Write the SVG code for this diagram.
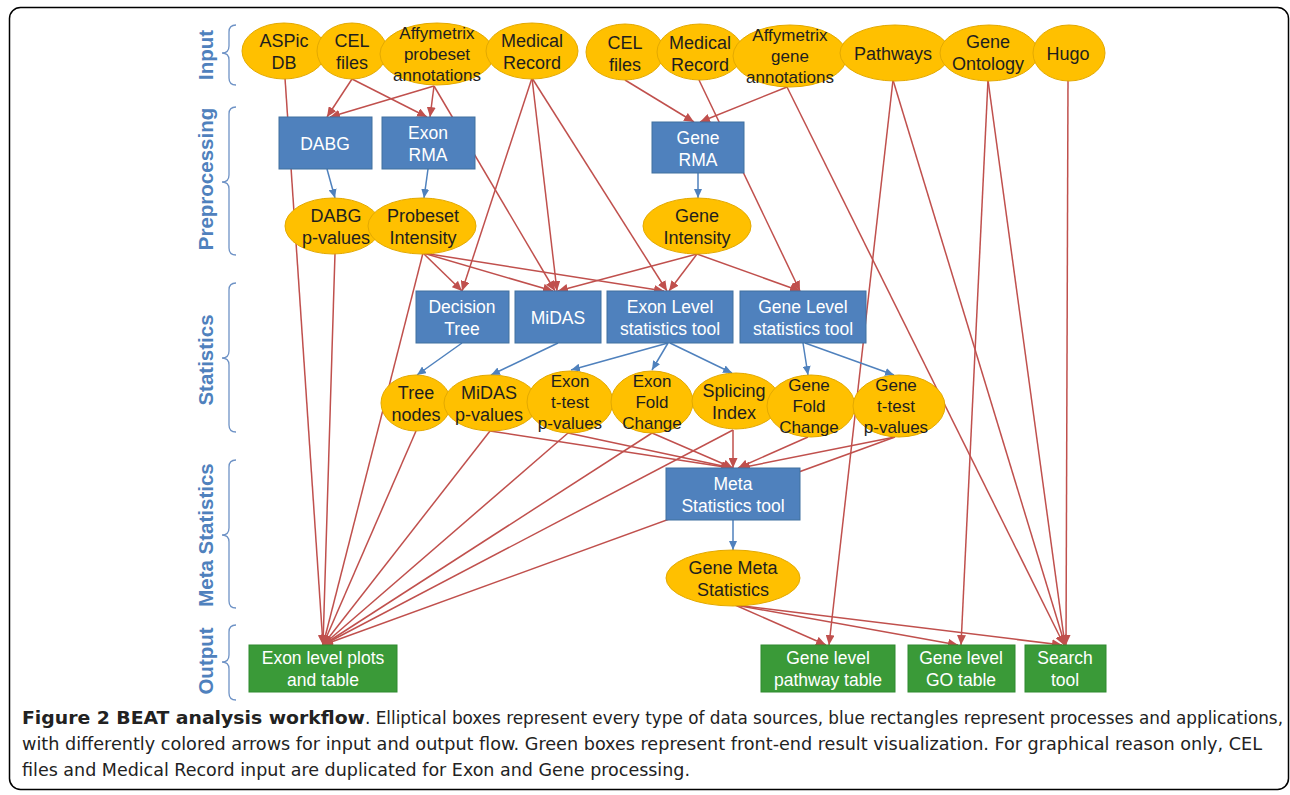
<svg xmlns="http://www.w3.org/2000/svg" width="1290" height="795" viewBox="0 0 1290 795">
<defs>
<marker id="ar" markerUnits="userSpaceOnUse" markerWidth="11" markerHeight="9" refX="10" refY="4.5" orient="auto"><path d="M0,0 L10,4.5 L0,9 z" fill="#C0504D"/></marker>
<marker id="ab" markerUnits="userSpaceOnUse" markerWidth="10" markerHeight="8" refX="9" refY="4" orient="auto"><path d="M0,0 L9,4 L0,8 z" fill="#4F81BD"/></marker>
<style>
.ell{fill:#FFC000;stroke:#E3A900;stroke-width:1}
.et{font-family:"Liberation Sans",Arial,sans-serif;font-size:18px;fill:#1E1E1E;text-anchor:middle}
.et3{font-family:"Liberation Sans",Arial,sans-serif;font-size:17px;fill:#1E1E1E;text-anchor:middle}
.br{fill:#4F81BD;stroke:#41709F;stroke-width:1}
.gr{fill:#3A9A38;stroke:#2F8A2E;stroke-width:1}
.rt{font-family:"Liberation Sans",Arial,sans-serif;font-size:17.5px;fill:#FFFFFF;text-anchor:middle}
.sec{font-family:"Liberation Sans",Arial,sans-serif;font-size:20.5px;font-weight:bold;fill:#4F81BD;text-anchor:middle}
.brace{fill:none;stroke:#6F93C6;stroke-width:1.3}
.red line{stroke:#C0504D;stroke-width:1.5;marker-end:url(#ar)}
.blue line{stroke:#4F81BD;stroke-width:1.5;marker-end:url(#ab)}
.cap{font-family:"Liberation Sans Narrow","DejaVu Sans Condensed","Liberation Sans",sans-serif;font-size:17px;fill:#222}
</style>
</defs>
<rect x="0" y="0" width="1290" height="795" fill="#FFFFFF"/>
<rect x="9.5" y="7.5" width="1279" height="782" rx="11" fill="#FFFFFF" stroke="#000" stroke-width="1.5"/>

<g id="section-labels">
<text class="sec" transform="translate(213,55) rotate(-90)">Input</text>
<text class="sec" transform="translate(213,179) rotate(-90)">Preprocessing</text>
<text class="sec" transform="translate(213,360) rotate(-90)">Statistics</text>
<text class="sec" transform="translate(213,535) rotate(-90)">Meta Statistics</text>
<text class="sec" transform="translate(213,661) rotate(-90)">Output</text>
<path class="brace" d="M236,25 Q229,25 229,32 L229,46 Q229,53 222,53 Q229,53 229,60 L229,78 Q229,85 236,85"/>
<path class="brace" d="M236,107 Q229,107 229,114 L229,175 Q229,182 222,182 Q229,182 229,189 L229,248 Q229,255 236,255"/>
<path class="brace" d="M236,283 Q229,283 229,290 L229,351 Q229,358 222,358 Q229,358 229,365 L229,425 Q229,432 236,432"/>
<path class="brace" d="M236,460 Q229,460 229,467 L229,528 Q229,535 222,535 Q229,535 229,542 L229,601 Q229,608 236,608"/>
<path class="brace" d="M236,625 Q229,625 229,632 L229,655 Q229,662 222,662 Q229,662 229,669 L229,693 Q229,700 236,700"/>
</g>

<g id="connectors">
<g class="red">
<line x1="352" y1="79" x2="327" y2="117"/>
<line x1="352" y1="79" x2="427" y2="117"/>
<line x1="434" y1="86" x2="330" y2="117"/>
<line x1="434" y1="86" x2="430" y2="117"/>
<line x1="434" y1="86" x2="555" y2="291"/>
<line x1="285" y1="78" x2="323" y2="645"/>
<line x1="532" y1="78" x2="462" y2="291"/>
<line x1="532" y1="78" x2="557" y2="291"/>
<line x1="532" y1="78" x2="667" y2="291"/>
<line x1="625" y1="80" x2="694" y2="122"/>
<line x1="787" y1="87" x2="700" y2="122"/>
<line x1="787" y1="87" x2="1064" y2="645"/>
<line x1="699" y1="80" x2="800" y2="291"/>
<line x1="893" y1="80" x2="829" y2="645"/>
<line x1="893" y1="80" x2="1065" y2="645"/>
<line x1="988" y1="80" x2="961" y2="645"/>
<line x1="988" y1="80" x2="1065" y2="645"/>
<line x1="1068" y1="80" x2="1066" y2="645"/>
<line x1="335" y1="253" x2="323" y2="645"/>
<line x1="423" y1="253" x2="323" y2="645"/>
<line x1="423" y1="253" x2="462" y2="291"/>
<line x1="423" y1="253" x2="553" y2="291"/>
<line x1="423" y1="253" x2="664" y2="291"/>
<line x1="697" y1="254" x2="558" y2="291"/>
<line x1="697" y1="254" x2="669" y2="291"/>
<line x1="697" y1="254" x2="800" y2="291"/>
<line x1="416" y1="431" x2="323" y2="645"/>
<line x1="490" y1="431" x2="323" y2="645"/>
<line x1="490" y1="431" x2="731" y2="468"/>
<line x1="568" y1="433" x2="323" y2="645"/>
<line x1="568" y1="433" x2="732" y2="468"/>
<line x1="652" y1="433" x2="323" y2="645"/>
<line x1="652" y1="433" x2="733" y2="468"/>
<line x1="733" y1="430" x2="733" y2="468"/>
<line x1="733" y1="430" x2="323" y2="645"/>
<line x1="808" y1="437" x2="738" y2="468"/>
<line x1="895" y1="437" x2="740" y2="468"/>
<line x1="895" y1="437" x2="323" y2="645"/>
<line x1="735" y1="605" x2="826" y2="645"/>
<line x1="735" y1="605" x2="958" y2="645"/>
<line x1="735" y1="605" x2="1062" y2="645"/>
</g>
<g class="blue">
<line x1="327" y1="169" x2="335" y2="198"/>
<line x1="428" y1="169" x2="424" y2="198"/>
<line x1="698" y1="173" x2="698" y2="198"/>
<line x1="462" y1="343" x2="417" y2="375"/>
<line x1="558" y1="343" x2="491" y2="375"/>
<line x1="668" y1="343" x2="571" y2="370"/>
<line x1="668" y1="343" x2="652" y2="370"/>
<line x1="670" y1="343" x2="732" y2="373"/>
<line x1="803" y1="343" x2="808" y2="375"/>
<line x1="805" y1="343" x2="894" y2="375"/>
<line x1="733" y1="520" x2="733" y2="550"/>
</g>
</g>

<g id="aspic-db"><ellipse class="ell" cx="284" cy="51" rx="42" ry="28"/><text class="et" x="284" y="47">ASPic</text><text class="et" x="284" y="69">DB</text></g>
<g id="cel-files-1"><ellipse class="ell" cx="352" cy="51" rx="35" ry="28"/><text class="et" x="352" y="47">CEL</text><text class="et" x="352" y="69">files</text></g>
<g id="affy-probeset"><ellipse class="ell" cx="437" cy="54" rx="57" ry="31"/><text class="et3" x="437" y="39">Affymetrix</text><text class="et3" x="437" y="60">probeset</text><text class="et3" x="437" y="81">annotations</text></g>
<g id="medical-record-1"><ellipse class="ell" cx="532" cy="51" rx="46" ry="28"/><text class="et" x="532" y="47">Medical</text><text class="et" x="532" y="69">Record</text></g>
<g id="cel-files-2"><ellipse class="ell" cx="625" cy="52" rx="39" ry="28"/><text class="et" x="625" y="49">CEL</text><text class="et" x="625" y="71">files</text></g>
<g id="medical-record-2"><ellipse class="ell" cx="700" cy="52" rx="43" ry="28"/><text class="et" x="700" y="49">Medical</text><text class="et" x="700" y="71">Record</text></g>
<g id="affy-gene"><ellipse class="ell" cx="790" cy="56" rx="57" ry="31"/><text class="et3" x="790" y="41">Affymetrix</text><text class="et3" x="790" y="62">gene</text><text class="et3" x="790" y="83">annotations</text></g>
<g id="pathways"><ellipse class="ell" cx="895" cy="53" rx="55" ry="28"/><text class="et" x="893" y="60">Pathways</text></g>
<g id="gene-ontology"><ellipse class="ell" cx="989" cy="53" rx="49" ry="28"/><text class="et" x="988" y="48">Gene</text><text class="et" x="988" y="70">Ontology</text></g>
<g id="hugo"><ellipse class="ell" cx="1069" cy="53" rx="36" ry="28"/><text class="et" x="1068" y="60">Hugo</text></g>

<g id="dabg"><rect class="br" x="279" y="117" width="93" height="52"/><text class="rt" x="325" y="150">DABG</text></g>
<g id="exon-rma"><rect class="br" x="382" y="117" width="93" height="52"/><text class="rt" x="428" y="139">Exon</text><text class="rt" x="428" y="161">RMA</text></g>
<g id="gene-rma"><rect class="br" x="652" y="122" width="92" height="51"/><text class="rt" x="698" y="144">Gene</text><text class="rt" x="698" y="166">RMA</text></g>

<g id="dabg-pvalues"><ellipse class="ell" cx="333" cy="226" rx="48" ry="28"/><text class="et" x="336" y="222">DABG</text><text class="et" x="336" y="244">p-values</text></g>
<g id="probeset-intensity"><ellipse class="ell" cx="422" cy="226" rx="54" ry="28"/><text class="et" x="423" y="222">Probeset</text><text class="et" x="423" y="244">Intensity</text></g>
<g id="gene-intensity"><ellipse class="ell" cx="697" cy="226" rx="54" ry="28"/><text class="et" x="697" y="222">Gene</text><text class="et" x="697" y="244">Intensity</text></g>

<g id="decision-tree"><rect class="br" x="416" y="291" width="93" height="52"/><text class="rt" x="462" y="313">Decision</text><text class="rt" x="462" y="335">Tree</text></g>
<g id="midas"><rect class="br" x="515" y="291" width="86" height="52"/><text class="rt" x="558" y="324">MiDAS</text></g>
<g id="exon-level-stats"><rect class="br" x="607" y="291" width="126" height="52"/><text class="rt" x="670" y="313">Exon Level</text><text class="rt" x="670" y="335">statistics tool</text></g>
<g id="gene-level-stats"><rect class="br" x="740" y="291" width="126" height="52"/><text class="rt" x="803" y="313">Gene Level</text><text class="rt" x="803" y="335">statistics tool</text></g>

<g id="tree-nodes"><ellipse class="ell" cx="416" cy="403" rx="35" ry="28"/><text class="et" x="416" y="399">Tree</text><text class="et" x="416" y="421">nodes</text></g>
<g id="midas-pvalues"><ellipse class="ell" cx="491" cy="403" rx="47" ry="28"/><text class="et" x="489" y="399">MiDAS</text><text class="et" x="489" y="421">p-values</text></g>
<g id="exon-ttest"><ellipse class="ell" cx="570" cy="402" rx="43" ry="31"/><text class="et3" x="570" y="387">Exon</text><text class="et3" x="570" y="408">t-test</text><text class="et3" x="570" y="429">p-values</text></g>
<g id="exon-fold-change"><ellipse class="ell" cx="652" cy="402" rx="41" ry="31"/><text class="et3" x="652" y="387">Exon</text><text class="et3" x="652" y="408">Fold</text><text class="et3" x="652" y="429">Change</text></g>
<g id="splicing-index"><ellipse class="ell" cx="736" cy="401" rx="44" ry="28"/><text class="et" x="734" y="397">Splicing</text><text class="et" x="734" y="419">Index</text></g>
<g id="gene-fold-change"><ellipse class="ell" cx="811" cy="406" rx="44" ry="31"/><text class="et3" x="809" y="391">Gene</text><text class="et3" x="809" y="412">Fold</text><text class="et3" x="809" y="433">Change</text></g>
<g id="gene-ttest"><ellipse class="ell" cx="899" cy="406" rx="46" ry="31"/><text class="et3" x="896" y="391">Gene</text><text class="et3" x="896" y="412">t-test</text><text class="et3" x="896" y="433">p-values</text></g>

<g id="meta-stats-tool"><rect class="br" x="666" y="468" width="134" height="52"/><text class="rt" x="733" y="490">Meta</text><text class="rt" x="733" y="512">Statistics tool</text></g>
<g id="gene-meta-stats"><ellipse class="ell" cx="733" cy="578" rx="67" ry="28"/><text class="et" x="733" y="574">Gene Meta</text><text class="et" x="733" y="596">Statistics</text></g>

<g id="exon-plots"><rect class="gr" x="249" y="645" width="148" height="47"/><text class="rt" x="323" y="664">Exon level plots</text><text class="rt" x="323" y="686">and table</text></g>
<g id="pathway-table"><rect class="gr" x="761" y="645" width="134" height="47"/><text class="rt" x="828" y="664">Gene level</text><text class="rt" x="828" y="686">pathway table</text></g>
<g id="go-table"><rect class="gr" x="908" y="645" width="107" height="47"/><text class="rt" x="961" y="664">Gene level</text><text class="rt" x="961" y="686">GO table</text></g>
<g id="search-tool"><rect class="gr" x="1025" y="645" width="81" height="47"/><text class="rt" x="1065" y="664">Search</text><text class="rt" x="1065" y="686">tool</text></g>

<g id="caption">
<text class="cap" x="22" y="724" font-weight="bold" textLength="343" lengthAdjust="spacingAndGlyphs">Figure 2 BEAT analysis workflow</text>
<text class="cap" x="365" y="724" textLength="918" lengthAdjust="spacingAndGlyphs">. Elliptical boxes represent every type of data sources, blue rectangles represent processes and applications,</text>
<text class="cap" x="22" y="750" textLength="1240" lengthAdjust="spacingAndGlyphs">with differently colored arrows for input and output flow. Green boxes represent front-end result visualization. For graphical reason only, CEL</text>
<text class="cap" x="22" y="776" textLength="668" lengthAdjust="spacingAndGlyphs">files and Medical Record input are duplicated for Exon and Gene processing.</text>
</g>
</svg>
